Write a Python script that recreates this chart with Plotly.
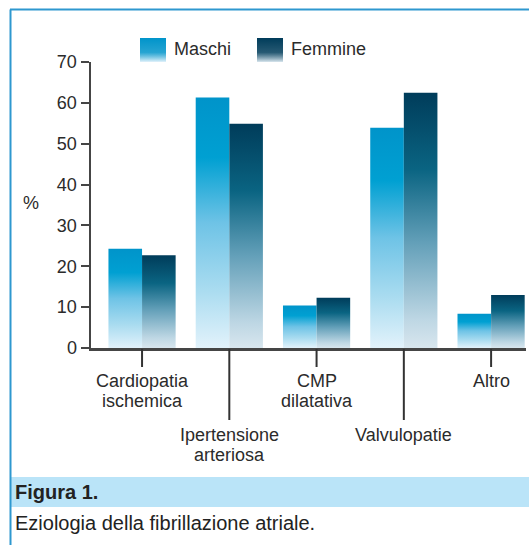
import base64
import plotly.graph_objects as go

# ---------------- data ----------------
categories = ["Cardiopatia<br>ischemica", "Ipertensione<br>arteriosa", "CMP<br>dilatativa",
              "Valvulopatie", "Altro"]
maschi = [24.3, 61.3, 10.4, 53.9, 8.4]
femmine = [22.7, 54.9, 12.3, 62.5, 13.0]
series_names = ["Maschi", "Femmine"]
y_tick_values = [0, 10, 20, 30, 40, 50, 60, 70]
y_label = "%"
figure_label = "Figura 1."
caption = "Eziologia della fibrillazione atriale."

# ---------------- style ----------------
W, H = 529, 545
ML, MR, MT, MB = 91, 3, 62, 197
PW, PH = W - ML - MR, H - MT - MB
FONT = "Liberation Sans, Arial, Helvetica, sans-serif"
TXT = "#2b2b2b"
AXIS = "#454545"
FRAME = "#2E98CF"
BAND = "#BAE4F8"
BAR_W = 0.385
X_RANGE = [-0.585, 4.40]
scales = [
    [[0, "#E2F2FB"], [0.23, "#AADCF0"], [0.5, "#6EC3E6"], [0.76, "#00A0D2"], [1, "#0094CA"]],
    [[0, "#D8E6EE"], [0.11, "#BED7E4"], [0.41, "#64A0B9"], [0.70, "#0A6482"], [1, "#003C5A"]],
]
swatch_cols = [("#0094CA", "#E2F2FB"), ("#003C5A", "#D8E6EE")]


def px(x):
    return (x - ML) / PW


def py(y):
    return (H - MB - y) / PH


fig = go.Figure()

# bars as gradient-filled shapes built from the data through the axes
for s, (vals, sc) in enumerate(zip([maschi, femmine], scales)):
    for i, v in enumerate(vals):
        x0 = i - BAR_W if s == 0 else i
        x1 = x0 + BAR_W
        fig.add_trace(go.Scatter(
            x=[x0, x0, x1, x1, x0], y=[0, v, v, 0, 0],
            mode="lines", fill="toself", line=dict(width=0, color="rgba(0,0,0,0)"),
            fillgradient=dict(type="vertical", colorscale=sc),
            name=series_names[s], showlegend=False, hoverinfo="skip",
        ))

shapes = []
annotations = []

# frame and caption band
shapes.append(dict(type="rect", xref="paper", yref="paper", x0=px(10), x1=px(540),
                   y0=py(477), y1=py(507), fillcolor=BAND, line=dict(width=0), layer="below"))
shapes.append(dict(type="line", xref="paper", yref="paper", x0=px(10), x1=px(540),
                   y0=py(9.5), y1=py(9.5), line=dict(color=FRAME, width=2)))
shapes.append(dict(type="line", xref="paper", yref="paper", x0=px(10.5), x1=px(10.5),
                   y0=py(9.5), y1=py(560), line=dict(color=FRAME, width=2)))

# category ticks and labels
for i, cat in enumerate(categories):
    long_tick = i % 2 == 1
    shapes.append(dict(type="line", xref="x", yref="paper", x0=i, x1=i,
                       y0=py(349), y1=py(420 if long_tick else 367),
                       line=dict(color="#333333", width=2)))
    first_line_y = 435 if long_tick else 381
    for k, line in enumerate(cat.split("<br>")):
        annotations.append(dict(x=i, y=py(first_line_y + 19.5 * k), xref="x", yref="paper",
                                text=line, showarrow=False, xanchor="center", yanchor="middle",
                                font=dict(family=FONT, size=18, color=TXT)))

# y label
annotations.append(dict(x=px(30.5), y=py(203), xref="paper", yref="paper", text=y_label,
                        showarrow=False, xanchor="center", yanchor="middle",
                        font=dict(family=FONT, size=18, color=TXT)))

# legend
images = []
legend_x = [140, 257]
for s, name in enumerate(series_names):
    top, bot = swatch_cols[s]
    svg = ('<svg xmlns="http://www.w3.org/2000/svg" width="26" height="24" preserveAspectRatio="none">'
           '<defs><linearGradient id="g" x1="0" y1="0" x2="0" y2="1">'
           f'<stop offset="0" stop-color="{top}"/><stop offset="0.6" stop-color="{top}" stop-opacity="0.85"/>'
           f'<stop offset="1" stop-color="{bot}"/></linearGradient></defs>'
           '<rect width="26" height="24" fill="url(#g)"/></svg>')
    src = "data:image/svg+xml;base64," + base64.b64encode(svg.encode()).decode()
    images.append(dict(source=src, xref="paper", yref="paper", x=px(legend_x[s]), y=py(38),
                       sizex=26 / PW, sizey=24 / PH, xanchor="left", yanchor="top",
                       sizing="stretch", layer="above"))
    annotations.append(dict(x=px(legend_x[s] + 32), y=py(49), xref="paper", yref="paper",
                            text=name, showarrow=False, xanchor="left", yanchor="middle",
                            font=dict(family=FONT, size=18, color=TXT)))

# figure caption
annotations.append(dict(x=px(13), y=py(492), xref="paper", yref="paper",
                        text="<b>" + figure_label + "</b>", showarrow=False,
                        xanchor="left", yanchor="middle",
                        font=dict(family=FONT, size=20, color="#222222")))
annotations.append(dict(x=px(13), y=py(523), xref="paper", yref="paper",
                        text=caption, showarrow=False, xanchor="left", yanchor="middle",
                        font=dict(family=FONT, size=20, color="#222222")))

fig.update_layout(
    width=W, height=H,
    margin=dict(l=ML, r=MR, t=MT, b=MB, pad=0),
    paper_bgcolor="white", plot_bgcolor="white",
    showlegend=False,
    shapes=shapes, annotations=annotations, images=images,
    xaxis=dict(range=X_RANGE, showgrid=False, zeroline=False, showline=True,
               linecolor=AXIS, linewidth=2.5, showticklabels=False, ticks="",
               fixedrange=True),
    yaxis=dict(range=[0, 70], tickvals=y_tick_values, showgrid=False, zeroline=False,
               showline=True, linecolor=AXIS, linewidth=2.5, ticks="outside",
               ticklen=8, tickwidth=2, tickcolor=AXIS,
               tickfont=dict(family=FONT, size=18, color=TXT), fixedrange=True),
)

fig.write_html(
    "out.html",
    config={"displayModeBar": False, "staticPlot": True},
    post_script="document.body.style.margin='0';"
                "document.documentElement.style.overflow='hidden';"
                "document.body.style.overflow='hidden';",
)
